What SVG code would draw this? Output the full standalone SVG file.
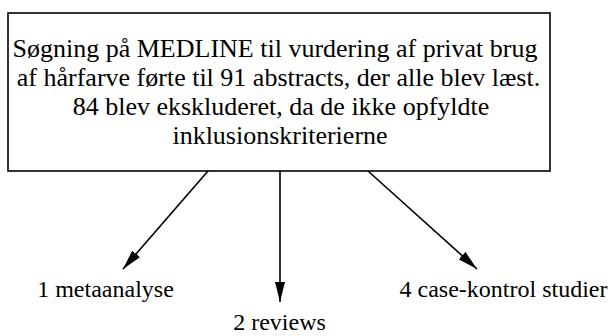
<svg xmlns="http://www.w3.org/2000/svg" width="611" height="336" viewBox="0 0 611 336">
  <style>
    .box { fill: #ffffff; stroke: #000000; stroke-width: 1.6; }
    .main { font-size: 26px; fill: #000000; text-anchor: middle; }
    .label { font-size: 24px; fill: #000000; text-anchor: middle; }
    .conn { stroke: #000000; stroke-width: 1.6; fill: none; marker-end: url(#arrow); }
  </style>
  <defs>
    <marker id="arrow" viewBox="0 0 20 10" refX="20" refY="5" markerWidth="20" markerHeight="10" markerUnits="userSpaceOnUse" orient="auto">
      <path d="M0,0 L20,5 L0,10 z" fill="#000000"/>
    </marker>
  </defs>
  <rect width="611" height="336" fill="#ffffff"/>
  <g id="search" font-family="'Liberation Serif', 'Times New Roman', 'DejaVu Serif', serif">
    <rect class="box" x="8" y="13" width="542" height="158"/>
    <text class="main" x="275" y="57">Søgning på MEDLINE til vurdering af privat brug</text>
    <text class="main" x="278.5" y="86">af hårfarve førte til 91 abstracts, der alle blev læst.</text>
    <text class="main" x="281" y="115">84 blev ekskluderet, da de ikke opfyldte</text>
    <text class="main" x="280" y="144">inklusionskriterierne</text>
  </g>
  <g id="connectors">
    <line class="conn" x1="208" y1="171" x2="123" y2="269"/>
    <line class="conn" x1="280" y1="171" x2="280" y2="302"/>
    <line class="conn" x1="368" y1="171" x2="477" y2="269"/>
  </g>
  <g id="meta" font-family="'Liberation Serif', 'Times New Roman', 'DejaVu Serif', serif">
    <text class="label" x="105.5" y="297">1 metaanalyse</text>
  </g>
  <g id="reviews" font-family="'Liberation Serif', 'Times New Roman', 'DejaVu Serif', serif">
    <text class="label" x="279.5" y="330">2 reviews</text>
  </g>
  <g id="casecontrol" font-family="'Liberation Serif', 'Times New Roman', 'DejaVu Serif', serif">
    <text class="label" x="503.5" y="297">4 case-kontrol studier</text>
  </g>
</svg>
